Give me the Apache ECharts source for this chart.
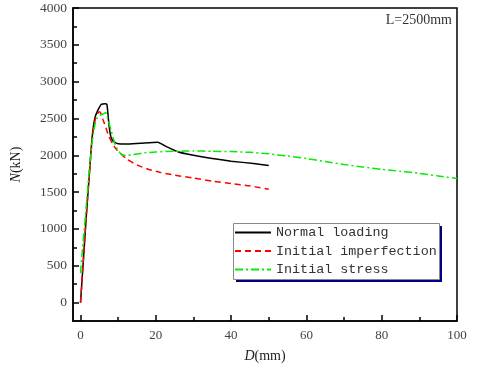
<!DOCTYPE html>
<html>
<head>
<meta charset="utf-8">
<script src="https://cdn.jsdelivr.net/npm/echarts@6/dist/echarts.min.js"></script>
<style>
  html, body { margin: 0; padding: 0; background: #fff; }
  #chart { width: 480px; height: 368px; }
</style>
</head>
<body>
<div id="chart"></div>
<script>
  // values: [D (mm), N (kN)]
  var normalLoading = [
    [0, 0], [0.5, 380], [1, 760], [1.5, 1150], [2, 1500], [2.5, 1850], [3, 2200],
    [3.5, 2420], [4, 2540], [4.5, 2600], [5, 2650], [5.5, 2690], [6.5, 2700],
    [7, 2690], [7.3, 2550], [7.7, 2350], [8.2, 2230], [9, 2180], [10, 2158],
    [12, 2152], [16, 2165], [20.5, 2178], [22, 2140], [24, 2090], [26, 2045],
    [30, 2000], [35, 1955], [40, 1920], [46, 1888], [50, 1863]
  ]
  var initialImperfection = [
    [0, 0], [0.5, 390], [1, 780], [1.5, 1160], [2, 1520], [2.5, 1860], [3, 2150],
    [3.5, 2380], [4, 2500], [4.5, 2560], [5, 2590], [5.4, 2570], [6, 2480],
    [6.7, 2380], [7.5, 2260], [8.5, 2160], [9.5, 2080], [10.7, 2020], [12.5, 1940],
    [15, 1870], [18, 1810], [21, 1770], [25, 1730], [30, 1690], [35, 1650],
    [40, 1615], [45, 1585], [50, 1540]
  ]
  var initialStress = [
    [0, 400], [0.5, 720], [1, 1000], [1.5, 1300], [2, 1600], [2.5, 1900], [3, 2150],
    [3.5, 2330], [4, 2450], [4.5, 2510], [5, 2540], [6, 2560], [6.7, 2580],
    [7.2, 2500], [8, 2360], [9.3, 2130], [10.7, 2020], [12, 1997], [14, 2010],
    [17, 2033], [20, 2045], [25, 2055], [30, 2058], [35, 2055], [40, 2050],
    [45, 2040], [50, 2020], [55, 1990], [60, 1955], [65, 1915], [70, 1875],
    [75, 1840], [80, 1810], [85, 1782], [90, 1755], [95, 1720], [100, 1684]
  ]
  var xMajor = [0, 20, 40, 60, 80, 100]
  var xMinor = [10, 30, 50, 70, 90]
  var yMajor = [0, 500, 1000, 1500, 2000, 2500, 3000, 3500, 4000]
  var yMinor = [250, 750, 1250, 1750, 2250, 2750, 3250, 3750]
  var seriesNames = ['Normal loading', 'Initial imperfection', 'Initial stress']

  var serif = 'Liberation Serif'
  var plain = function (v) { return String(v) }
  var myChart = echarts.init(document.getElementById('chart'))
  myChart.setOption({
    animation: false,
    backgroundColor: '#fff',
    grid: {
      left: 73, right: 23, top: 8, bottom: 45,
      show: true, borderColor: '#000', borderWidth: 1.5
    },
    graphic: [{
      type: 'text', right: 28, top: 13,
      style: { text: 'L=2500mm', font: '14px "Liberation Serif"', fill: '#333' }
    }, {
      // legend box shadow and frame
      type: 'rect', z: 3, shape: { x: 236, y: 226, width: 206, height: 56 },
      style: { fill: '#000080' }
    }, {
      type: 'rect', z: 3, shape: { x: 233.5, y: 223.5, width: 206, height: 56 },
      style: { fill: '#fff', stroke: '#888', lineWidth: 1 }
    }],
    legend: {
      data: seriesNames,
      orient: 'vertical',
      left: 233, top: 223, z: 5,
      itemWidth: 36, itemHeight: 13, itemGap: 5.5,
      padding: [3, 4, 3, 1],
      itemStyle: { opacity: 0 },
      textStyle: { fontFamily: 'Liberation Mono', fontSize: 13.4, color: '#333' }
    },
    xAxis: [{
      type: 'value', min: -2, max: 100,
      splitLine: { show: false },
      axisLine: { onZero: false, lineStyle: { color: '#000', width: 1.5 } },
      axisTick: { inside: true, length: 6, customValues: xMajor, lineStyle: { color: '#000', width: 1.5 } },
      axisLabel: { customValues: xMajor, formatter: plain, margin: 8, fontFamily: serif, fontSize: 13, color: '#444' },
      name: '{i|D}(mm)', nameLocation: 'middle', nameGap: 28,
      nameTextStyle: {
        fontFamily: serif, fontSize: 14, color: '#222',
        rich: { i: { fontFamily: serif, fontStyle: 'italic', fontSize: 14, color: '#222' } }
      }
    }, {
      type: 'value', min: -2, max: 100, position: 'bottom',
      splitLine: { show: false },
      axisLine: { show: false, onZero: false },
      axisTick: { inside: true, length: 4, customValues: xMinor, lineStyle: { color: '#000', width: 1.5 } },
      axisLabel: { show: false }
    }],
    yAxis: [{
      type: 'value', min: -250, max: 4000,
      splitLine: { show: false },
      axisLine: { onZero: false, lineStyle: { color: '#000', width: 1.5 } },
      axisTick: { inside: true, length: 6, customValues: yMajor, lineStyle: { color: '#000', width: 1.5 } },
      axisLabel: { customValues: yMajor, formatter: plain, margin: 6, fontFamily: serif, fontSize: 13.5, color: '#444' },
      name: '{i|N}(kN)', nameLocation: 'middle', nameGap: 50,
      nameTextStyle: {
        fontFamily: serif, fontSize: 14, color: '#222',
        rich: { i: { fontFamily: serif, fontStyle: 'italic', fontSize: 14, color: '#222' } }
      }
    }, {
      type: 'value', min: -250, max: 4000, position: 'left',
      splitLine: { show: false },
      axisLine: { show: false, onZero: false },
      axisTick: { inside: true, length: 4, customValues: yMinor, lineStyle: { color: '#000', width: 1.5 } },
      axisLabel: { show: false }
    }],
    series: [{
      name: seriesNames[0], type: 'line', showSymbol: false, symbol: 'none', smooth: 0.2,
      xAxisIndex: 0, yAxisIndex: 0,
      lineStyle: { color: '#000', width: 1.5 },
      itemStyle: { color: '#000' },
      data: normalLoading
    }, {
      name: seriesNames[1], type: 'line', showSymbol: false, symbol: 'none', smooth: 0.2,
      xAxisIndex: 0, yAxisIndex: 0,
      lineStyle: { color: '#ff0000', width: 1.5, type: [6, 4] },
      itemStyle: { color: '#ff0000' },
      data: initialImperfection
    }, {
      name: seriesNames[2], type: 'line', showSymbol: false, symbol: 'none', smooth: 0.2,
      xAxisIndex: 0, yAxisIndex: 0,
      lineStyle: { color: '#00ee00', width: 1.5, type: [8, 3, 2, 3] },
      itemStyle: { color: '#00ee00' },
      data: initialStress
    }]
  })
</script>
</body>
</html>
